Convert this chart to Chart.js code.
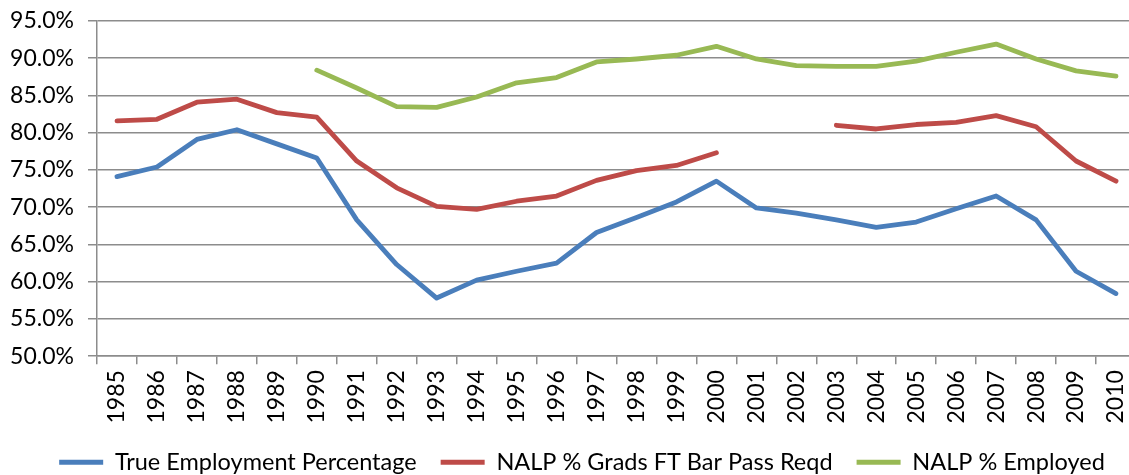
<!DOCTYPE html>
<html>
<head>
<meta charset="utf-8">
<script src="https://cdn.jsdelivr.net/npm/chart.js@4"></script>
<style>
  html, body { margin: 0; padding: 0; background: #fff; overflow: hidden; }
  #wrap { width: 1140px; height: 475px; position: relative; }
</style>
</head>
<body>
<div id="wrap"><canvas id="chart"></canvas></div>
<script>
const years = ['1985','1986','1987','1988','1989','1990','1991','1992','1993','1994','1995','1996','1997',
               '1998','1999','2000','2001','2002','2003','2004','2005','2006','2007','2008','2009','2010'];

const trueEmployment = [74.1, 75.4, 79.1, 80.4, 78.5, 76.6, 68.3, 62.3, 57.8, 60.2, 61.4, 62.5, 66.6,
                        68.6, 70.7, 73.5, 69.9, 69.2, 68.3, 67.3, 68.0, 69.8, 71.5, 68.3, 61.4, 58.4];

const barPassReqd = [81.6, 81.8, 84.1, 84.5, 82.7, 82.1, 76.2, 72.6, 70.1, 69.7, 70.8, 71.5, 73.6,
                     74.9, 75.6, 77.3, null, null, 81.0, 80.5, 81.1, 81.4, 82.3, 80.8, 76.2, 73.5];

const nalpEmployed = [null, null, null, null, null, 88.4, 86.0, 83.5, 83.4, 84.8, 86.7, 87.4, 89.5,
                      89.9, 90.4, 91.6, 89.9, 89.0, 88.9, 88.9, 89.6, 90.8, 91.9, 89.9, 88.3, 87.6];

const seriesNames = ['True Employment Percentage', 'NALP % Grads FT Bar Pass Reqd', 'NALP % Employed'];
const colours = ['#4A7EBB', '#BE4B48', '#98B954'];

const font = { family: 'Lato, "Open Sans", sans-serif', size: 23 };
const gridColour = '#8c8c8c';

function line(label, data, colour) {
    return {
        label: label,
        data: data,
        borderColor: colour,
        backgroundColor: colour,
        borderWidth: 4.8,
        borderCapStyle: 'round',
        borderJoinStyle: 'round',
        pointRadius: 0,
        tension: 0,
        spanGaps: false
    };
}

// legend in the original sits a little right of the canvas centre
const nudgeLegend = {
    id: 'nudgeLegend',
    afterLayout(chart) {
        chart.legend.left += 14;
        chart.legend.right += 14;
    }
};

new Chart(document.getElementById('chart'), {
    type: 'line',
    data: {
        labels: years,
        datasets: [
            line(seriesNames[0], trueEmployment, colours[0]),
            line(seriesNames[1], barPassReqd, colours[1]),
            line(seriesNames[2], nalpEmployed, colours[2])
        ]
    },
    plugins: [nudgeLegend],
    options: {
        responsive: true,
        maintainAspectRatio: false,
        animation: false,
        layout: { padding: { top: 21, right: 4, left: 0, bottom: -9 } },
        scales: {
            x: {
                offset: true,
                afterFit: (scale) => { scale.paddingLeft = 0; scale.paddingRight = 0; scale.height -= 3; },
                grid: {
                    offset: true,
                    drawOnChartArea: false,
                    drawTicks: true,
                    tickLength: 8,
                    color: gridColour,
                    lineWidth: 1.5
                },
                border: { color: gridColour, width: 1.5 },
                ticks: {
                    autoSkip: false,
                    minRotation: 90,
                    maxRotation: 90,
                    padding: 6,
                    color: '#000',
                    font: font
                }
            },
            y: {
                min: 50,
                max: 95,
                afterFit: (scale) => { scale.width = 97; scale.paddingTop = 0; scale.paddingBottom = 0; },
                grid: {
                    color: gridColour,
                    lineWidth: 1.5,
                    drawTicks: true,
                    tickLength: 9
                },
                border: { color: gridColour, width: 1.5 },
                ticks: {
                    stepSize: 5,
                    padding: 14,
                    color: '#000',
                    font: font,
                    callback: (v) => v.toFixed(1) + '%'
                }
            }
        },
        plugins: {
            tooltip: { enabled: false },
            legend: {
                position: 'bottom',
                labels: {
                    color: '#000',
                    font: { family: font.family, size: 23.5 },
                    boxWidth: 44,
                    boxHeight: 5,
                    padding: 24,
                    generateLabels: (chart) => {
                        const items = Chart.defaults.plugins.legend.labels.generateLabels(chart);
                        items.forEach(it => { it.lineWidth = 0; });
                        return items;
                    }
                }
            }
        }
    }
});
</script>
</body>
</html>
